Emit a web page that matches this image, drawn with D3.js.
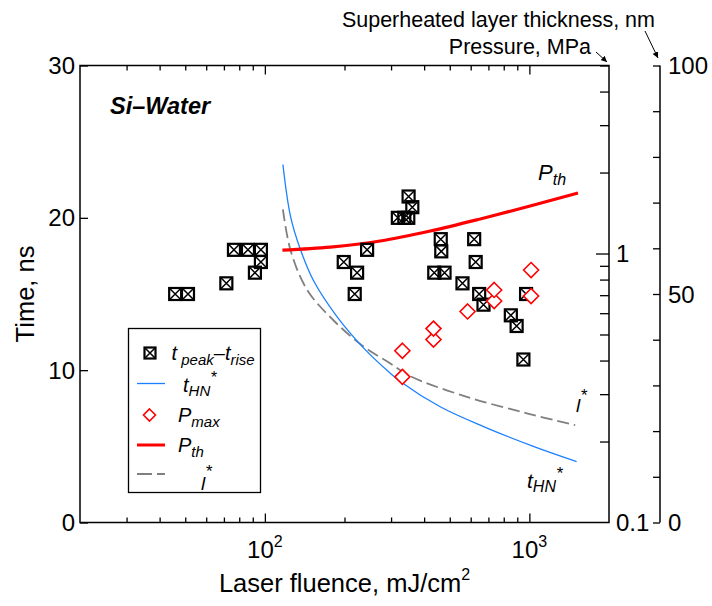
<!DOCTYPE html>
<html>
<head>
<meta charset="utf-8">
<script src="https://cdn.jsdelivr.net/npm/d3@7"></script>
<style>
  body { margin: 0; background: #fff; }
  text { font-family: "Liberation Sans", Arial, sans-serif; fill: #000; }
</style>
</head>
<body>
<div id="chart"></div>
<script>
//! DATA
// t_peak - t_rise (black boxed crosses), time in ns
const peakFluence = [45.8, 51.2, 71.5, 76.4, 86.3, 96.6, 96.6, 91.7, 198.7, 223.2, 218.6, 243.5,
  349.4, 360.9, 318.2, 336.6, 348.5, 462.3, 464.4, 436.9, 477.8, 558.6, 618.4, 626.6, 646,
  670.7, 850.9, 894.9, 971.6, 949.3];
const peakTime = [15.0, 15.0, 15.7, 17.9, 17.9, 17.9, 17.1, 16.4, 17.1, 16.4, 15.0, 17.9,
  21.4, 20.7, 20.0, 20.0, 20.0, 18.6, 17.8, 16.4, 16.4, 15.7, 18.6, 17.1, 15.0,
  14.3, 13.6, 12.9, 15.0, 10.7];

// P_max (red diamonds), MPa
const pmaxFluence = [331, 331, 434, 434, 584, 736, 736, 1015, 1015];
const pmaxValue = [0.348, 0.435, 0.479, 0.526, 0.609, 0.666, 0.732, 0.695, 0.868];

// P_th (red line), MPa
const pthFluence = [116.5, 177, 273, 422, 652, 1006, 1527];
const pthValue = [1.030, 1.057, 1.113, 1.212, 1.344, 1.502, 1.679];

// t_HN* (blue line), ns
const thnFluence = [117, 125, 136.4, 153, 187.6, 236.4, 298, 325, 460, 671, 1035, 1509];
const thnTime = [23.5, 20.1, 17.9, 15.85, 13.5, 11.45, 9.8, 9.26, 7.6, 6.3, 5.0, 4.0];

// l* (grey dashed), superheated layer thickness in nm
const lFluence = [117, 125, 144.5, 182, 236, 298, 355, 580, 978, 1490];
const lThick = [68.5, 59.6, 50.9, 44.2, 38.5, 34.8, 32.0, 27.5, 23.9, 21.3];

// ticks
const fluenceTicks = [30, 40, 50, 60, 70, 80, 90, 100, 200, 300, 400, 500, 600, 700, 800, 900, 1000];
const fluenceMajor = [100, 1000];
const timeTicks = [0, 10, 20, 30];
const pressureTicks = [0.2, 0.3, 0.4, 0.5, 0.6, 0.7, 0.8, 0.9, 1, 2, 3, 4, 5];
const pressureLabels = [0.1, 1];
const thickTicks = [0, 10, 20, 30, 40, 50, 60, 70, 80, 90, 100];
const thickLabels = [0, 50, 100];

//! CONSTS
const width = 712;
const height = 606;
const plotLeft = 80, plotRight = 609, plotTop = 65.5, plotBottom = 522.5;
const farRight = 660;

//! SVG
const svg = d3.select('#chart')
  .append('svg')
  .attr('width', width)
  .attr('height', height);

//! SCALES
const xScale = d3.scaleLog().domain([20, 2000]).range([plotLeft, plotRight]);
const yTime = d3.scaleLinear().domain([0, 30]).range([plotBottom, plotTop]);
const yPress = d3.scaleLog().domain([0.1, 5]).range([plotBottom, plotTop]);
const yThick = d3.scaleLinear().domain([0, 100]).range([plotBottom, plotTop]);

//! AXES
const tickStyle = g => {
  g.select('.domain').remove();
  g.selectAll('line').attr('stroke', '#000').attr('stroke-width', 1.3);
  g.selectAll('text').remove();
};

// bottom + top (ticks inward)
svg.append('g')
  .attr('transform', `translate(0,${plotBottom})`)
  .call(d3.axisTop(xScale).tickValues(fluenceTicks).tickSize(0))
  .call(tickStyle)
  .selectAll('.tick line')
  .attr('y2', d => fluenceMajor.includes(d) ? -9 : -5);

svg.append('g')
  .attr('transform', `translate(0,${plotTop})`)
  .call(d3.axisBottom(xScale).tickValues(fluenceTicks).tickSize(0))
  .call(tickStyle)
  .selectAll('.tick line')
  .attr('y2', d => fluenceMajor.includes(d) ? 9 : 5);

// left time axis
svg.append('g')
  .attr('transform', `translate(${plotLeft},0)`)
  .call(d3.axisRight(yTime).tickValues(timeTicks).tickSize(8))
  .call(tickStyle);

// right pressure axis
svg.append('g')
  .attr('transform', `translate(${plotRight},0)`)
  .call(d3.axisLeft(yPress).tickValues(pressureTicks).tickSize(0))
  .call(tickStyle)
  .selectAll('.tick line')
  .attr('x2', d => d === 1 ? -13 : -9);

// far right thickness axis
const thickAxis = svg.append('g')
  .attr('transform', `translate(${farRight},0)`)
  .call(d3.axisLeft(yThick).tickValues(thickTicks).tickSize(7))
  .call(tickStyle);
thickAxis.append('line')
  .attr('y1', yThick(0)).attr('y2', yThick(100))
  .attr('stroke', '#000').attr('stroke-width', 1.5);

// frame
svg.append('rect')
  .attr('x', plotLeft).attr('y', plotTop)
  .attr('width', plotRight - plotLeft).attr('height', plotBottom - plotTop)
  .attr('fill', 'none').attr('stroke', '#000').attr('stroke-width', 1.5);

//! TICK LABELS
const labelSize = 24;
svg.selectAll('.tl')
  .data(timeTicks)
  .enter()
  .append('text')
  .attr('x', plotLeft - 5)
  .attr('y', d => yTime(d) + 8.5)
  .attr('text-anchor', 'end')
  .attr('font-size', labelSize)
  .text(d => d);

svg.selectAll('.pl')
  .data(pressureLabels)
  .enter()
  .append('text')
  .attr('x', plotRight + 7)
  .attr('y', d => yPress(d) + 8.5)
  .attr('font-size', labelSize)
  .text(d => d);

svg.selectAll('.hl')
  .data(thickLabels)
  .enter()
  .append('text')
  .attr('x', farRight + 8)
  .attr('y', d => yThick(d) + 8.5)
  .attr('font-size', labelSize)
  .text(d => d);

fluenceMajor.forEach(v => {
  const t = svg.append('text')
    .attr('x', xScale(v))
    .attr('y', 558)
    .attr('text-anchor', 'middle')
    .attr('font-size', labelSize);
  t.append('tspan').text('10');
  t.append('tspan').attr('dy', -11).attr('font-size', 16).text(Math.log10(v));
});

//! AXIS TITLES
const xt = svg.append('text')
  .attr('x', (plotLeft + plotRight) / 2)
  .attr('y', 592)
  .attr('text-anchor', 'middle')
  .attr('font-size', 25.5);
xt.append('tspan').text('Laser fluence, mJ/cm');
xt.append('tspan').attr('dy', -12).attr('font-size', 16).text('2');

svg.append('text')
  .attr('transform', `translate(34,${(plotTop + plotBottom) / 2}) rotate(-90)`)
  .attr('text-anchor', 'middle')
  .attr('font-size', 25.5)
  .text('Time, ns');

svg.append('text')
  .attr('x', 655).attr('y', 27)
  .attr('text-anchor', 'end')
  .attr('font-size', 21.5)
  .text('Superheated layer thickness, nm');

svg.append('text')
  .attr('x', 591).attr('y', 54)
  .attr('text-anchor', 'end')
  .attr('font-size', 21.5)
  .text('Pressure, MPa');

// arrows
svg.append('defs').append('marker')
  .attr('id', 'arr')
  .attr('viewBox', '0 0 10 10')
  .attr('refX', 10).attr('refY', 5)
  .attr('markerWidth', 6).attr('markerHeight', 6)
  .attr('orient', 'auto')
  .append('path')
  .attr('d', 'M0,0 L10,5 L0,10 z')
  .attr('fill', '#000');

[[596, 52, 607, 62], [645, 31, 658, 58]].forEach(a => {
  svg.append('line')
    .attr('x1', a[0]).attr('y1', a[1]).attr('x2', a[2]).attr('y2', a[3])
    .attr('stroke', '#000').attr('stroke-width', 1)
    .attr('marker-end', 'url(#arr)');
});

//! LINES
const lineGen = d3.line().curve(d3.curveCatmullRom.alpha(0.5));

svg.append('path')
  .attr('d', lineGen(lFluence.map((f, i) => [xScale(f), yThick(lThick[i])])))
  .attr('fill', 'none')
  .attr('stroke', '#808080')
  .attr('stroke-width', 1.8)
  .attr('stroke-dasharray', '12,5');

svg.append('path')
  .attr('d', lineGen(thnFluence.map((f, i) => [xScale(f), yTime(thnTime[i])])))
  .attr('fill', 'none')
  .attr('stroke', '#1a80ff')
  .attr('stroke-width', 1.3);

svg.append('path')
  .attr('d', lineGen(pthFluence.map((f, i) => [xScale(f), yPress(pthValue[i])])))
  .attr('fill', 'none')
  .attr('stroke', '#ff0000')
  .attr('stroke-width', 3.2);

//! MARKERS
const boxX = (g, s) => {
  g.append('rect')
    .attr('x', -s).attr('y', -s)
    .attr('width', 2 * s).attr('height', 2 * s)
    .attr('fill', 'none').attr('stroke', '#000').attr('stroke-width', 2.2);
  g.append('path')
    .attr('d', `M${-s},${-s}L${s},${s}M${s},${-s}L${-s},${s}`)
    .attr('stroke', '#000').attr('stroke-width', 1.5);
};
const diamond = (g, s) => {
  g.append('path')
    .attr('d', `M0,${-s}L${s},0L0,${s}L${-s},0Z`)
    .attr('fill', '#fff').attr('stroke', '#ff0000').attr('stroke-width', 1.6);
};

svg.selectAll('.peak')
  .data(peakFluence.map((f, i) => [f, peakTime[i]]))
  .enter()
  .append('g')
  .attr('transform', d => `translate(${xScale(d[0])},${yTime(d[1])})`)
  .each(function () { boxX(d3.select(this), 6); });

svg.selectAll('.pmax')
  .data(pmaxFluence.map((f, i) => [f, pmaxValue[i]]))
  .enter()
  .append('g')
  .attr('transform', d => `translate(${xScale(d[0])},${yPress(d[1])})`)
  .each(function () { diamond(d3.select(this), 7.5); });

//! ANNOTATIONS
svg.append('text')
  .attr('x', 110).attr('y', 114)
  .attr('font-size', 23.5).attr('font-weight', 'bold').attr('font-style', 'italic')
  .text('Si\u2013Water');

const ital = (x, y, size, parts) => {
  const t = svg.append('text').attr('x', x).attr('y', y)
    .attr('font-size', size).attr('font-style', 'italic');
  parts.forEach(p => {
    t.append('tspan').attr('dy', p.dy || 0).attr('font-size', p.size || size).text(p.s);
  });
  return t;
};

ital(538, 180, 22, [{ s: 'P' }, { s: 'th', dy: 5, size: 16 }]);
ital(527, 488, 21, [{ s: 't' }, { s: 'HN', dy: 4, size: 16 }, { s: '*', dy: -13, size: 17 }]);
ital(576, 412, 19, [{ s: 'l' }, { s: '*', dy: -11, size: 17 }]);

//! LEGEND
svg.append('rect')
  .attr('x', 128.5).attr('y', 328.5)
  .attr('width', 132).attr('height', 164)
  .attr('fill', '#fff').attr('stroke', '#000').attr('stroke-width', 1.3);

boxX(svg.append('g').attr('transform', 'translate(150,353)'), 5.5);
ital(171.5, 360, 20, [{ s: 't' }, { s: ' peak', dy: 5, size: 15 }, { s: '\u2013t', dy: -5, size: 20 }, { s: 'rise', dy: 5, size: 15 }]);

svg.append('line')
  .attr('x1', 137).attr('x2', 165).attr('y1', 383.5).attr('y2', 383.5)
  .attr('stroke', '#1a80ff').attr('stroke-width', 1.3);
ital(183, 391.5, 20, [{ s: 't' }, { s: 'HN', dy: 4, size: 15 }, { s: '*', dy: -13, size: 16 }]);

diamond(svg.append('g').attr('transform', 'translate(149.5,415)'), 6);
ital(178, 421.5, 20, [{ s: 'P' }, { s: 'max', dy: 5, size: 15 }]);

svg.append('line')
  .attr('x1', 137).attr('x2', 165).attr('y1', 445).attr('y2', 445)
  .attr('stroke', '#ff0000').attr('stroke-width', 3);
ital(178, 451.5, 20, [{ s: 'P' }, { s: 'th', dy: 5, size: 15 }]);

svg.append('line')
  .attr('x1', 137).attr('x2', 165).attr('y1', 474).attr('y2', 474)
  .attr('stroke', '#808080').attr('stroke-width', 1.8)
  .attr('stroke-dasharray', '15,5');
ital(201, 490, 19, [{ s: 'l' }, { s: '*', dy: -13, size: 17 }]);
</script>
</body>
</html>
